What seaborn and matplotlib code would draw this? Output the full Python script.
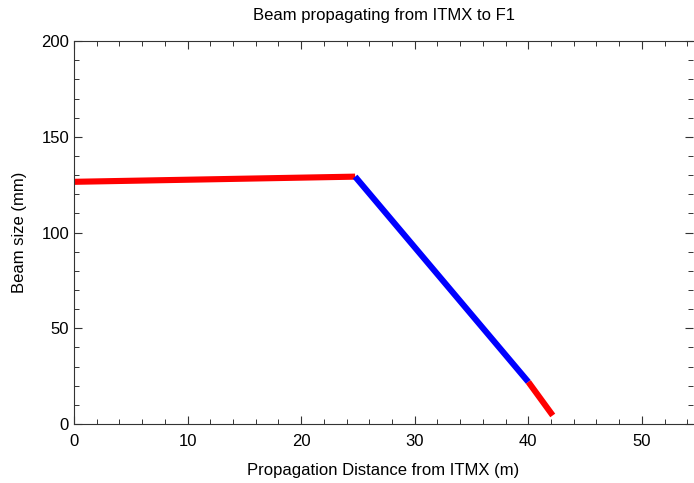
import matplotlib
matplotlib.use("Agg")
import matplotlib.pyplot as plt
import seaborn as sns
import pandas as pd
from matplotlib.ticker import MultipleLocator

sns.set_style("ticks")
plt.rcParams['font.family'] = ['Liberation Sans', 'DejaVu Sans']
plt.rcParams['text.color'] = 'black'
plt.rcParams['axes.labelcolor'] = 'black'
plt.rcParams['xtick.color'] = '#333333'
plt.rcParams['ytick.color'] = '#333333'
plt.rcParams['xtick.labelcolor'] = 'black'
plt.rcParams['ytick.labelcolor'] = 'black'

# segment data: (distance m, beam size mm)
seg1_x = [0.0, 24.75]
seg1_y = [126.5, 129.2]
seg2_x = [24.75, 40.0]
seg2_y = [129.2, 22.0]
seg3_x = [40.0, 42.15]
seg3_y = [22.0, 4.5]
seg_colors = ["#ff0000", "#0000ff", "#ff0000"]

fig = plt.figure(figsize=(6.94, 4.83), dpi=100)
ax = fig.add_axes([0.1066, 0.122, 0.8920, 0.793])

for xs, ys, c in zip([seg1_x, seg2_x, seg3_x], [seg1_y, seg2_y, seg3_y], seg_colors):
    df = pd.DataFrame({"x": xs, "y": ys})
    sns.lineplot(data=df, x="x", y="y", ax=ax, color=c, linewidth=4.4,
                 solid_capstyle="butt", sort=False)

ax.set_xlim(0, 54.5)
ax.set_ylim(0, 200)
ax.xaxis.set_major_locator(MultipleLocator(10))
ax.xaxis.set_minor_locator(MultipleLocator(2))
ax.yaxis.set_major_locator(MultipleLocator(50))
ax.yaxis.set_minor_locator(MultipleLocator(10))
ax.tick_params(which="both", direction="in", top=True, right=True)
ax.tick_params(which="major", length=6, width=0.8, labelsize=12)
ax.tick_params(axis="x", which="major", pad=7)
ax.tick_params(which="minor", length=3.5, width=0.7)
for s in ax.spines.values():
    s.set_linewidth(0.8)
    s.set_color("#333333")
ax.spines["right"].set_visible(False)
ax.set_xlabel("Propagation Distance from ITMX (m)", fontsize=12, labelpad=10)
ax.set_ylabel("Beam size (mm)", fontsize=12, labelpad=10)
ax.set_title("Beam propagating from ITMX to F1", fontsize=12, pad=15)

fig.savefig("out.png", dpi=100)
